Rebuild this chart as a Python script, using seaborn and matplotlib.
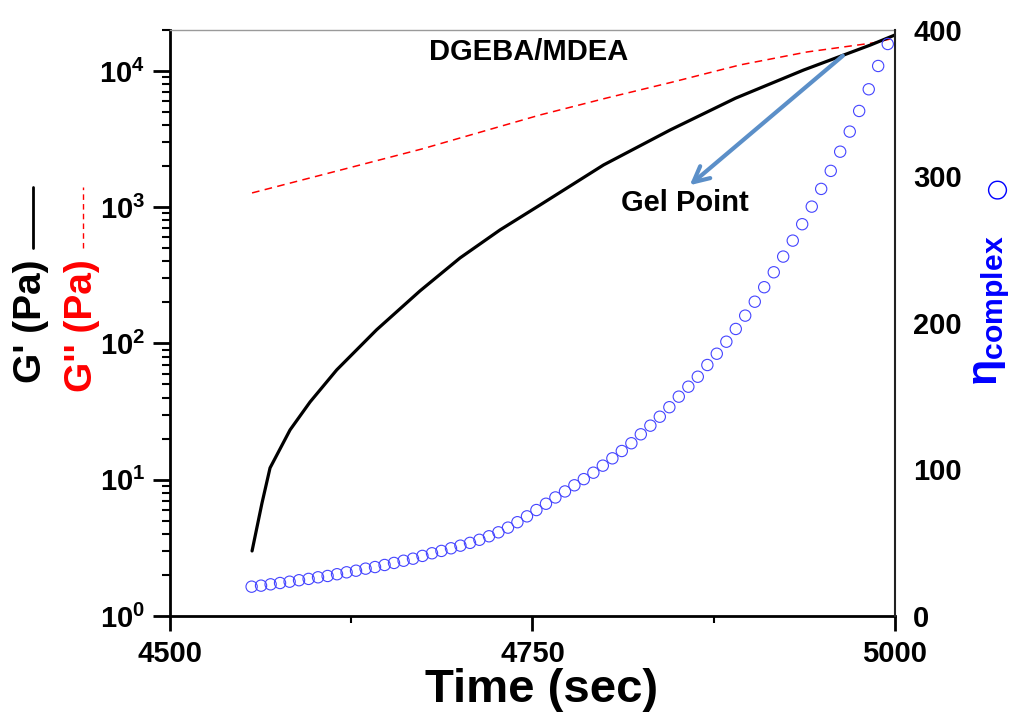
import matplotlib
matplotlib.use('Agg')
import matplotlib.pyplot as plt
import seaborn as sns
from matplotlib.lines import Line2D
from matplotlib.ticker import FixedLocator, LogLocator, FuncFormatter, NullFormatter
import numpy as np

# G' (storage modulus), Pa
gp_time = [4556.6, 4563.4, 4569.0, 4582.8, 4596.6, 4615.0, 4642.5, 4672.4, 4700.0,
           4727.6, 4755.2, 4799.0, 4845.0, 4890.0, 4937.0, 4983.0, 5000.0]
gp_vals = [3.0, 6.7, 12.2, 23.2, 37.2, 64.0, 126, 243, 424,
           681, 1038, 2042, 3690, 6310, 10160, 15490, 18370]

# G'' (loss modulus), Pa
gpp_time = [4556.6, 4615.2, 4673.8, 4755.2, 4801.4, 4846.9, 4893.1, 4939.3, 4984.8, 5000.0]
gpp_vals = [1273, 1845, 2677, 4753, 6340, 8305, 11070, 13780, 16060, 17460]

# complex viscosity
eta_time = [4556.3, 4562.8, 4569.4, 4575.9, 4582.5, 4589.0, 4595.6, 4602.1, 4608.7, 4615.2,
            4621.8, 4628.3, 4634.9, 4641.4, 4648.0, 4654.5, 4661.1, 4667.6, 4674.1, 4680.7,
            4687.2, 4693.8, 4700.3, 4706.9, 4713.4, 4720.0, 4726.5, 4733.1, 4739.6, 4746.2,
            4752.7, 4759.3, 4765.8, 4772.4, 4778.9, 4785.4, 4792.0, 4798.5, 4805.1, 4811.6,
            4818.2, 4824.7, 4831.3, 4837.8, 4844.4, 4850.9, 4857.5, 4864.0, 4870.6, 4877.1,
            4883.7, 4890.2, 4896.7, 4903.3, 4909.8, 4916.4, 4922.9, 4929.5, 4936.0, 4942.6,
            4949.1, 4955.7, 4962.2, 4968.8, 4975.3, 4981.9, 4988.4, 4995.0]
eta_vals = [20.0, 20.7, 21.6, 22.5, 23.4, 24.4, 25.3, 26.4, 27.3, 28.5,
            29.8, 30.9, 32.3, 33.4, 34.8, 36.2, 37.7, 39.1, 41.0, 42.8,
            44.4, 46.2, 48.0, 49.9, 52.0, 54.4, 57.1, 60.3, 64.0, 68.0,
            72.3, 76.6, 80.9, 85.0, 89.2, 93.4, 97.8, 102.6, 107.6, 112.6,
            117.9, 124.0, 129.9, 136.0, 142.5, 149.7, 156.5, 163.3, 171.3, 179.0,
            187.2, 195.9, 205.0, 214.5, 224.4, 234.6, 245.3, 256.2, 267.4, 279.4,
            291.5, 303.8, 316.9, 330.6, 344.7, 359.5, 375.4, 390.4]

x_major = [4500, 4750, 5000]
x_minor = [4625, 4875]
eta_ticks = [0, 100, 200, 300, 400]

sns.set_theme(style='ticks')
plt.rcParams['font.family'] = ['Liberation Sans', 'DejaVu Sans']
plt.rcParams['font.weight'] = 'bold'
plt.rcParams['text.color'] = 'black'
plt.rcParams['axes.labelcolor'] = 'black'
plt.rcParams['axes.edgecolor'] = 'black'
plt.rcParams['xtick.color'] = 'black'
plt.rcParams['ytick.color'] = 'black'
plt.rcParams['mathtext.fontset'] = 'custom'
plt.rcParams['mathtext.rm'] = 'Liberation Sans:bold'
plt.rcParams['mathtext.bf'] = 'Liberation Sans:bold'
plt.rcParams['mathtext.it'] = 'Liberation Sans:bold'
plt.rcParams['mathtext.default'] = 'rm'

fig = plt.figure(figsize=(10.13, 7.18), dpi=100)
ax = fig.add_axes([0.1678, 0.1421, 0.7157, 0.8162])
ax2 = ax.twinx()

sns.lineplot(x=gpp_time, y=gpp_vals, ax=ax, color='red', lw=1.1,
             linestyle=(0, (5, 3.5)), estimator=None)
sns.lineplot(x=gp_time, y=gp_vals, ax=ax, color='black', lw=2.3, estimator=None)

sns.scatterplot(x=eta_time, y=eta_vals, ax=ax2, s=66, marker='o', linewidth=0.8)
pc = ax2.collections[0]
pc.set_facecolor('none')
pc.set_edgecolor('#4444ff')

ax.set_yscale('log')
ax.set_xlim(4500, 5000)
ax.set_ylim(1, 2e4)
ax2.set_ylim(0, 400)

ax.xaxis.set_major_locator(FixedLocator(x_major))
ax.xaxis.set_minor_locator(FixedLocator(x_minor))
ax.yaxis.set_major_locator(LogLocator(base=10, numticks=10))
ax.yaxis.set_minor_locator(LogLocator(base=10, subs=np.arange(2, 10), numticks=20))
ax.yaxis.set_major_formatter(FuncFormatter(lambda v, p: r'$10^{%d}$' % round(np.log10(v))))
ax.yaxis.set_minor_formatter(NullFormatter())
ax2.yaxis.set_major_locator(FixedLocator(eta_ticks))

ax.tick_params(axis='both', which='major', direction='out', length=12, width=2,
               labelsize=21, pad=6, colors='black')
ax.tick_params(axis='both', which='minor', direction='out', length=6, width=1.5)
ax.tick_params(axis='x', which='major', length=11)
ax.tick_params(axis='x', which='minor', length=5)
ax2.tick_params(axis='y', which='both', length=0, labelsize=21, pad=13, colors='black')
for lab in ax.get_xticklabels() + ax2.get_yticklabels():
    lab.set_fontweight('bold')

ax.set_xlabel('')
ax.set_ylabel('')
ax2.set_ylabel('')

ax2.spines['top'].set_visible(False)
ax.spines['top'].set_color('#9a9a9a')
ax.spines['top'].set_linewidth(1)
ax.spines['left'].set_linewidth(2)
ax.spines['bottom'].set_linewidth(2)
ax.spines['right'].set_visible(False)
ax2.spines['left'].set_visible(False)
ax2.spines['bottom'].set_visible(False)
ax2.spines['right'].set_linewidth(1.5)
ax2.spines['right'].set_color('#222222')

ax.text(0.495, 0.962, 'DGEBA/MDEA', transform=ax.transAxes, ha='center', va='center',
        fontsize=21, fontweight='bold')
ax.text(0.710, 0.705, 'Gel Point', transform=ax.transAxes, ha='center', va='center',
        fontsize=21, fontweight='bold')
ax.annotate('', xy=(0.714, 0.732), xytext=(0.931, 0.959), xycoords='axes fraction',
            arrowprops=dict(arrowstyle='->', color='#5b8fc8', lw=3, mutation_scale=28))

# axis titles
fig.text(0.535, 0.039, 'Time (sec)', ha='center', va='center', fontsize=34, fontweight='bold')
fig.text(0.031, 0.553, "G' (Pa)", rotation=90, ha='center', va='center',
         fontsize=28, fontweight='bold', color='black')
fig.text(0.081, 0.547, "G'' (Pa)", rotation=90, ha='center', va='center',
         fontsize=28, fontweight='bold', color='red')
fig.add_artist(Line2D([0.0326, 0.0326], [0.6546, 0.7396], transform=fig.transFigure,
                      color='black', lw=2))
fig.add_artist(Line2D([0.0819, 0.0819], [0.6546, 0.7396], transform=fig.transFigure,
                      color='red', lw=1, linestyle=(0, (4, 3))))
fig.text(0.979, 0.567, r'$η_{complex}$', rotation=90, ha='center', va='center',
         fontsize=31, color='blue')
fig.text(0.984, 0.738, '○', rotation=90, ha='center', va='center',
         fontsize=18, color='blue', family=['DejaVu Sans'])

fig.savefig('out.png', dpi=100)
